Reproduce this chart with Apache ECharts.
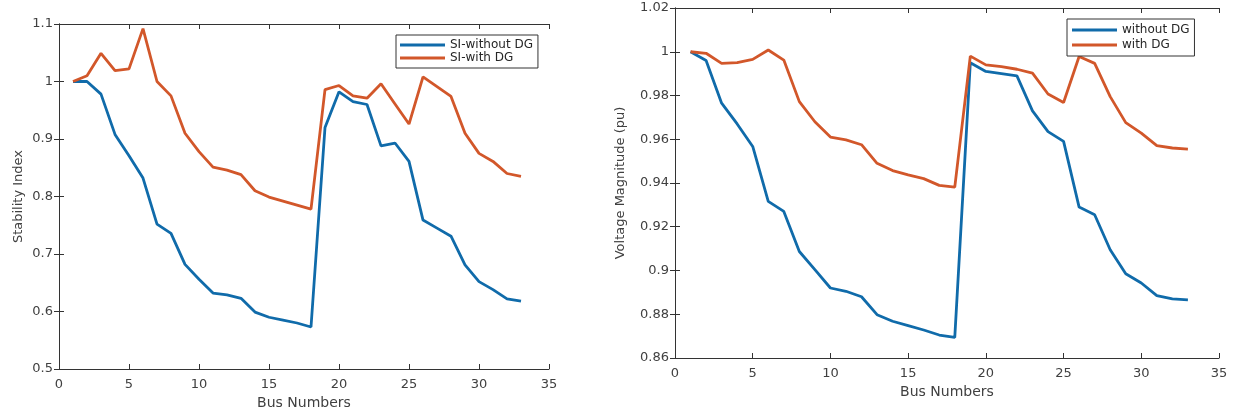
<!DOCTYPE html>
<html>
<head>
<meta charset="utf-8">
<script src="https://cdn.jsdelivr.net/npm/echarts@6/dist/echarts.min.js"></script>
<style>
html,body{margin:0;padding:0;background:#fff;}
#chart{width:1237px;height:416px;}
</style>
</head>
<body>
<div id="chart"></div>
<script>
const buses = [1,2,3,4,5,6,7,8,9,10,11,12,13,14,15,16,17,18,19,20,21,22,23,24,25,26,27,28,29,30,31,32,33];
const siWithout = [1.0,1.0,0.978,0.908,0.871,0.832,0.752,0.736,0.682,0.656,0.632,0.629,0.623,0.599,0.590,0.585,0.580,0.573,0.920,0.982,0.965,0.960,0.888,0.893,0.861,0.759,0.745,0.731,0.681,0.652,0.638,0.622,0.618];
const siWith = [1.0,1.010,1.049,1.019,1.022,1.092,1.0,0.975,0.910,0.878,0.851,0.846,0.838,0.810,0.799,0.792,0.785,0.778,0.986,0.993,0.975,0.971,0.996,0.961,0.926,1.008,0.991,0.974,0.910,0.875,0.861,0.840,0.835];
const vWithout = [1.0,0.996,0.9765,0.967,0.9567,0.9316,0.927,0.9087,0.9004,0.892,0.8905,0.888,0.8798,0.8768,0.8748,0.8728,0.8705,0.8694,0.995,0.991,0.990,0.989,0.973,0.9635,0.959,0.929,0.9255,0.9095,0.8985,0.8943,0.8885,0.887,0.8866];
const vWith = [1.0,0.9993,0.9947,0.995,0.9965,1.0008,0.9962,0.9772,0.968,0.961,0.9597,0.9575,0.949,0.9457,0.9437,0.942,0.9389,0.9381,0.998,0.994,0.9932,0.992,0.9902,0.9807,0.9768,0.9978,0.9947,0.9795,0.9676,0.9628,0.9571,0.956,0.9555];
const seriesNamesLeft = ['SI-without DG','SI-with DG'];
const seriesNamesRight = ['without DG','with DG'];
const xTitle = 'Bus Numbers';
const yTitleLeft = 'Stability Index';
const yTitleRight = 'Voltage Magnitude (pu)';

const BLUE = '#106BAA', ORANGE = '#D2572A';
const FONT = 'DejaVu Sans';
const AX = '#333';
const LBL = '#404040';

function pts(vals){ return buses.map((b,i)=>[b, vals[i]]); }

function xAx(gi, pos){
  const main = pos === 'bottom';
  return {
    type:'value', gridIndex:gi, position:pos, min:0, max:35, interval:5,
    axisLine:{show:true, lineStyle:{color:AX, width:1}},
    axisTick:{show:true, inside:true, length:5, lineStyle:{color:AX}},
    axisLabel:{show:main, margin:9, color:LBL, fontFamily:FONT, fontSize:13},
    splitLine:{show:false},
    name: main ? xTitle : '', nameLocation:'middle', nameGap:27,
    nameTextStyle:{color:LBL, fontFamily:FONT, fontSize:14}
  };
}
function yAx(gi, pos, min, max, interval, name, gap){
  const main = pos === 'left';
  return {
    type:'value', gridIndex:gi, position:pos, min:min, max:max, interval:interval,
    axisLine:{show:true, lineStyle:{color:AX, width:1}},
    axisTick:{show:true, inside:true, length:5, lineStyle:{color:AX}},
    axisLabel:{show:main, margin:6, color:LBL, fontFamily:FONT, fontSize:13},
    splitLine:{show:false},
    name: main ? name : '', nameLocation:'middle', nameGap:gap, nameRotate:90,
    nameTextStyle:{color:LBL, fontFamily:FONT, fontSize:13}
  };
}
function lineSeries(name, vals, color, xi, yi){
  return {type:'line', name:name, data:pts(vals), xAxisIndex:xi, yAxisIndex:yi,
    showSymbol:false, symbol:'none', lineStyle:{color:color, width:2.8}, itemStyle:{color:color},
    animation:false};
}
function legend(names, left, top, gap, padding){
  return {
    data: names.map(n=>({name:n, icon:'rect'})), orient:'vertical', left:left, top:top,
    itemWidth:45, itemHeight:3, itemGap:gap, padding:padding,
    borderColor:'#333', borderWidth:1, backgroundColor:'#fff',
    textStyle:{color:'#262626', fontFamily:FONT, fontSize:12}
  };
}

const chart = echarts.init(document.getElementById('chart'), null, {renderer:'canvas'});
chart.setOption({
  backgroundColor:'#fff',
  animation:false,
  grid:[
    {left:59, top:24, width:490, height:345},
    {left:675, top:8, width:544, height:350}
  ],
  xAxis:[xAx(0,'bottom'), xAx(0,'top'), xAx(1,'bottom'), xAx(1,'top')],
  yAxis:[
    yAx(0,'left',0.5,1.1,0.1,yTitleLeft,34), yAx(0,'right',0.5,1.1,0.1,'',0),
    yAx(1,'left',0.86,1.02,0.02,yTitleRight,48), yAx(1,'right',0.86,1.02,0.02,'',0)
  ],
  legend:[
    legend(seriesNamesLeft, 396, 35, 1, [4,5,4,4]),
    legend(seriesNamesRight, 1067, 19, 3, [5,5,5,5])
  ],
  series:[
    lineSeries(seriesNamesLeft[0], siWithout, BLUE, 0, 0),
    lineSeries(seriesNamesLeft[1], siWith, ORANGE, 0, 0),
    lineSeries(seriesNamesRight[0], vWithout, BLUE, 2, 2),
    lineSeries(seriesNamesRight[1], vWith, ORANGE, 2, 2)
  ]
});
</script>
</body>
</html>
